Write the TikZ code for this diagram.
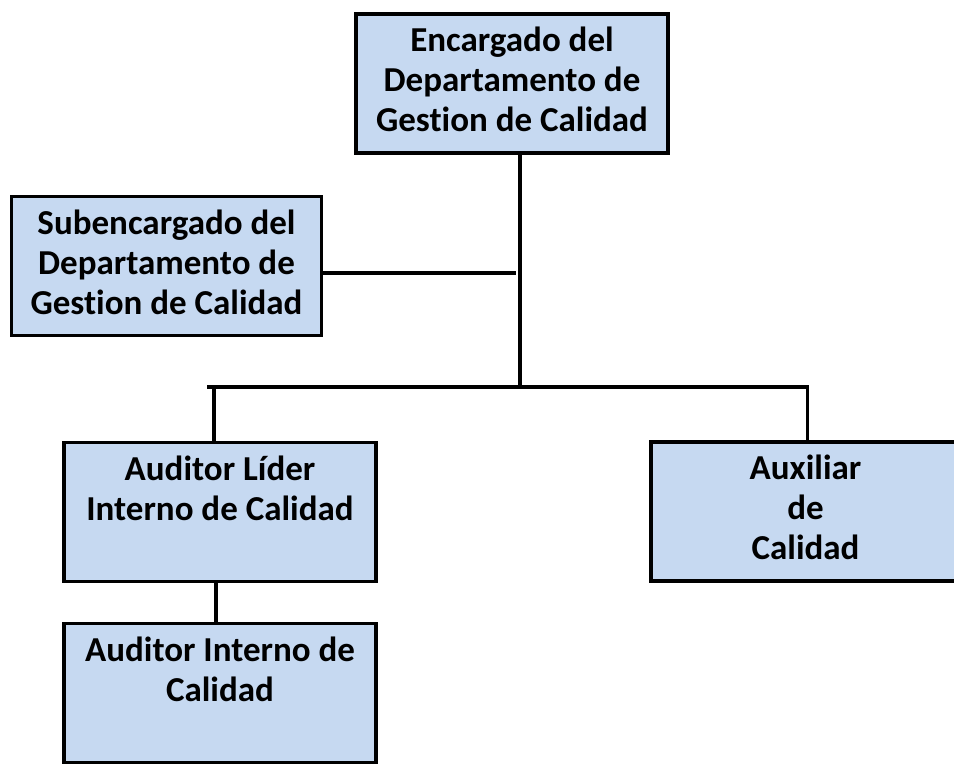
\documentclass[tikz,border=0pt]{standalone}
\usepackage{fontspec}
\setmainfont[Ligatures=NoCommon]{Carlito}
\definecolor{boxblue}{RGB}{198,217,241}
\newcommand{\Ls}{\strut}
\begin{document}
\begin{tikzpicture}[x=1pt,y=-1pt,
  box/.style={draw=black, line width=3.5pt, fill=boxblue, align=center,
    font=\bfseries\fontsize{35}{40}\selectfont, inner sep=0pt,
    minimum width=312pt, minimum height=139pt},
  link/.style={line width=3.2pt}]
\useasboundingbox (0,0) rectangle (954,764);
\node[box] (top) at (512,83.5) {\Ls Encargado del\\Departamento de\\Gestion de Calidad\Ls};
\node[box, minimum width=310pt] (sub) at (166.5,266) {\Ls Subencargado del\\Departamento de\\Gestion de Calidad\Ls};
\node[box] (lider) at (220,512) {\Ls Auditor Líder\\Interno de Calidad\\\Ls};
\node[box] (interno) at (220,693) {\Ls Auditor Interno de\\Calidad\\\Ls};
\node[box, minimum width=309pt] (aux) at (805.5,511.5) {\Ls Auxiliar\\de\\Calidad\Ls};
\coordinate (hub) at (520,387);
\coordinate (busL) at (207,387);
\coordinate (busR) at (807.5,387);
\coordinate (subend) at (516,273);
\draw[link] (top.south -| hub) -- (hub);
\draw[link] (sub.east |- subend) -- (subend);
\draw[link, line join=miter] (busL) -- (busR) -- (aux.north -| busR);
\draw[link] (busL -| 214,0) -- (lider.north -| 214,0);
\draw[link] (lider.south -| 216,0) -- (interno.north -| 216,0);
\end{tikzpicture}
\end{document}
